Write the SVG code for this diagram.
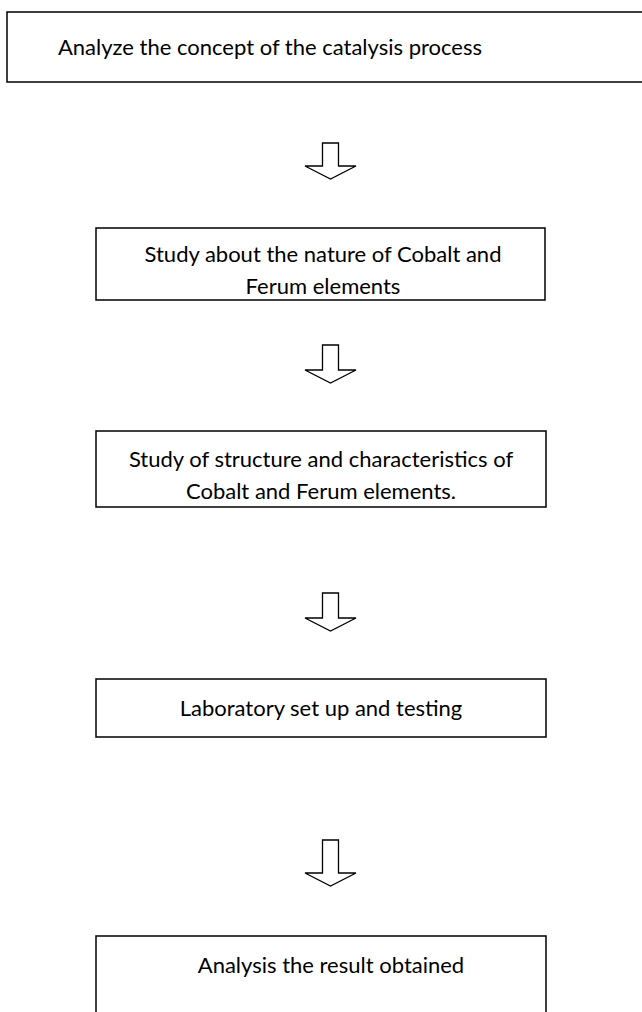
<svg xmlns="http://www.w3.org/2000/svg" width="642" height="1012" viewBox="0 0 642 1012">
<style>
.box{fill:#fff;stroke:#000;stroke-width:1.5}
.t{font-family:Lato,"Open Sans",sans-serif;font-size:22px;fill:#000;text-anchor:middle}
.arr{fill:#fff;stroke:#000;stroke-width:1.3;stroke-linejoin:miter}
</style>
<rect width="642" height="1012" fill="#fff"/>
<g id="connectors">
<path class="arr" d="M322.5,143 H338.5 V166 H356 L330.5,179 L305,166 H322.5 Z"/>
<path class="arr" d="M322.5,345 H338.5 V370 H356 L330.5,383 L305,370 H322.5 Z"/>
<path class="arr" d="M322.5,593 H338.5 V618 H356 L330.5,631 L305,618 H322.5 Z"/>
<path class="arr" d="M322.5,840 H338.5 V873 H356 L330.5,886 L305,873 H322.5 Z"/>
</g>
<g id="node1">
<rect class="box" x="7" y="12" width="650" height="70"/>
<text class="t" x="270" y="55">Analyze the concept of the catalysis process</text>
</g>
<g id="node2">
<rect class="box" x="96" y="228" width="449" height="72"/>
<text class="t" x="323" y="262">Study about the nature of Cobalt and</text>
<text class="t" x="323" y="294">Ferum elements</text>
</g>
<g id="node3">
<rect class="box" x="96" y="431" width="450" height="76"/>
<text class="t" x="321" y="467">Study of structure and characteristics of</text>
<text class="t" x="321" y="499">Cobalt and Ferum elements.</text>
</g>
<g id="node4">
<rect class="box" x="96" y="679" width="450" height="58"/>
<text class="t" x="321" y="716">Laboratory set up and testing</text>
</g>
<g id="node5">
<rect class="box" x="96" y="936" width="450" height="100"/>
<text class="t" x="331" y="973">Analysis the result obtained</text>
</g>
</svg>
